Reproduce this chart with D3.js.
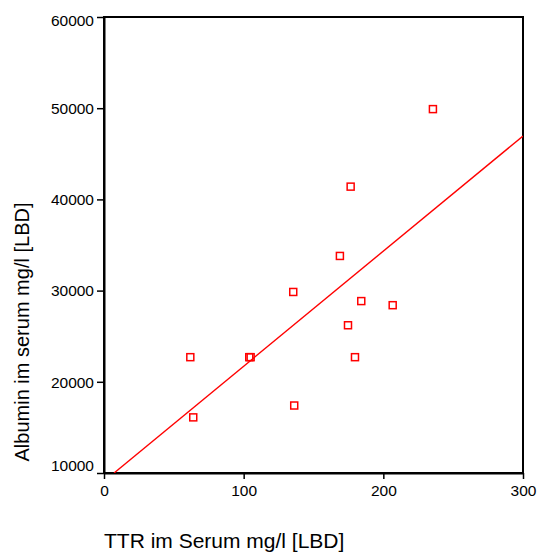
<!DOCTYPE html>
<html>
<head>
<meta charset="utf-8">
<script src="https://cdn.jsdelivr.net/npm/d3@7"></script>
<style>
html,body{margin:0;padding:0;background:#fff;}
svg{display:block;font-family:"Liberation Sans",Arial,Helvetica,sans-serif;}
</style>
</head>
<body>
<svg id="chart" width="539" height="558"></svg>
<script>
// Data
const ttr = [235.5, 176.6, 168.9, 135.5, 184.2, 206.7, 174.7, 61.8, 104.0, 105.0, 179.7, 136.2, 63.9];
const albumin = [49900, 41400, 33800, 29850, 28850, 28400, 26200, 22700, 22700, 22700, 22700, 17400, 16100];
const xTicks = [0, 100, 200, 300];
const yTicks = [10000, 20000, 30000, 40000, 50000, 60000];
const fitIntercept = 9090;
const fitSlope = 126.2;
const xTitle = "TTR im Serum mg/l [LBD]";
const yTitle = "Albumin im serum mg/l [LBD]";

const svg = d3.select("#chart");
const mL = 104, mR = 523, mT = 17, mB = 473;
const x = d3.scaleLinear().domain([0, 300]).range([mL, mR]);
const y = d3.scaleLinear().domain([10000, 60000]).range([mB, mT]);

// frame
svg.append("rect").attr("x", mL).attr("y", mT).attr("width", mR - mL).attr("height", mB - mT)
  .attr("fill", "none").attr("stroke", "#000").attr("stroke-width", 2);

const gx = svg.append("g").attr("transform", `translate(0,${mB})`)
  .call(d3.axisBottom(x).tickValues(xTicks).tickFormat(d3.format("d")).tickSize(6).tickSizeOuter(0));
const gy = svg.append("g").attr("transform", `translate(${mL},0)`)
  .call(d3.axisLeft(y).tickValues(yTicks).tickFormat(d3.format("d")).tickSize(7).tickSizeOuter(0));
[gx, gy].forEach(g => {
  g.select(".domain").attr("stroke", "#000").attr("stroke-width", 2);
  g.selectAll(".tick line").attr("stroke", "#000").attr("stroke-width", 1.5);
  g.selectAll(".tick text").attr("fill", "#000").style("font-size", "15.5px")
   .style("font-family", "'Liberation Sans',Arial,sans-serif");
});
gx.selectAll(".tick text").attr("y", 12).attr("dy", "0.71em");
const yMin = d3.min(yTicks), yMax = d3.max(yTicks);
gy.selectAll(".tick text").attr("x", -10)
  .attr("y", d => d === yMin ? -3 : (d === yMax ? 8 : 0))
  .attr("dy", d => (d === yMin || d === yMax) ? "0" : "0.34em");

// clip
svg.append("clipPath").attr("id", "clip").append("rect")
  .attr("x", mL).attr("y", mT).attr("width", mR - mL).attr("height", mB - mT);

// regression line
const x0 = (10000 - fitIntercept) / fitSlope;
svg.append("line").attr("clip-path", "url(#clip)")
  .attr("x1", x(x0)).attr("y1", y(fitIntercept + fitSlope * x0))
  .attr("x2", x(300)).attr("y2", y(fitIntercept + fitSlope * 300))
  .attr("stroke", "#ff0000").attr("stroke-width", 1.4);

// points
svg.selectAll("rect.pt").data(ttr).enter().append("rect").attr("class", "pt")
  .attr("x", (d) => x(d) - 3.5).attr("y", (d, i) => y(albumin[i]) - 3.5)
  .attr("width", 7).attr("height", 7)
  .attr("fill", "none").attr("stroke", "#ff0000").attr("stroke-width", 1.5);

// titles
svg.append("text").attr("x", 104).attr("y", 548).attr("text-anchor", "start")
  .style("font-size", "21px").attr("fill", "#000").text(xTitle);
svg.append("text").attr("transform", "translate(29,332) rotate(-90)").attr("text-anchor", "middle")
  .style("font-size", "20px").attr("fill", "#000").text(yTitle);
</script>
</body>
</html>
